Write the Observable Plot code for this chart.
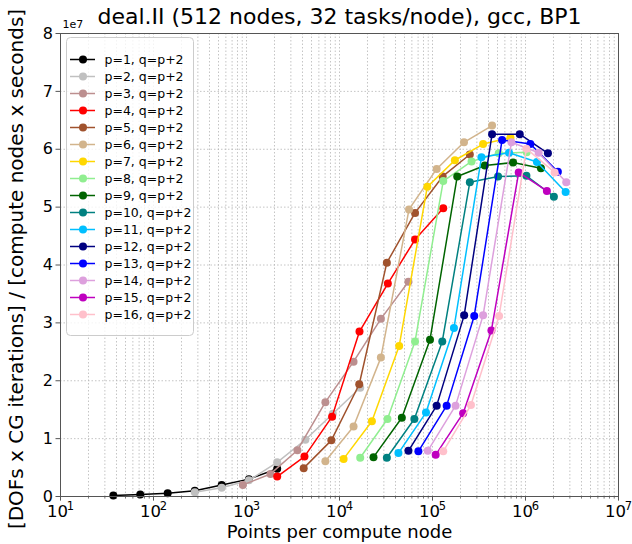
<!DOCTYPE html>
<html><head><meta charset="utf-8">
<script src="https://cdn.jsdelivr.net/npm/d3@7"></script>
<script src="https://cdn.jsdelivr.net/npm/@observablehq/plot@0.6"></script>
<style>
body{margin:0;background:#fff;font-family:"DejaVu Sans",sans-serif}
#wrap{position:relative;width:632px;height:544px;overflow:hidden}
#legend{position:absolute;left:66px;top:37px}
</style></head><body><div id="wrap"><div id="main"></div><div id="legend"></div></div>
<script>
const title = "deal.II (512 nodes, 32 tasks/node), gcc, BP1";
const xLabel = "Points per compute node";
const yLabel = "[DOFs x CG iterations] / [compute nodes x seconds]";
const yOffsetLabel = "1e7";
const degrees = [1,2,3,4,5,6,7,8,9,10,11,12,13,14,15,16];
const colors = ["#000000","#c0c0c0","#bc8f8f","#ff0000","#a0522d","#d2b48c","#ffd700","#90ee90",
                "#006400","#008080","#00bfff","#000080","#0000ff","#dda0dd","#bf00bf","#ffc0cb"];
const xTickValues = [1e1,1e2,1e3,1e4,1e5,1e6,1e7];
const xTickBase = "10";
const xTickExponents = ["1","2","3","4","5","6","7"];
const yTickValues = [0,1e7,2e7,3e7,4e7,5e7,6e7,7e7,8e7];
const yTickLabels = ["0","1","2","3","4","5","6","7","8"];

const x_p1 = [37, 72, 142, 278, 541, 1062, 2138];
const y_p1 = [0.017e7, 0.034e7, 0.057e7, 0.10e7, 0.20e7, 0.30e7, 0.48e7];
const x_p2 = [278, 541, 1062, 2138, 4295, 8470, 16700];
const y_p2 = [0.074e7, 0.15e7, 0.28e7, 0.59e7, 0.98e7, 1.43e7, 1.88e7];
const x_p3 = [914, 1811, 3530, 7050, 14160, 27850, 55100];
const y_p3 = [0.20e7, 0.39e7, 0.80e7, 1.63e7, 2.33e7, 3.07e7, 3.71e7];
const x_p4 = [2138, 4200, 8320, 16400, 33100, 64900, 130500];
const y_p4 = [0.345e7, 0.69e7, 1.38e7, 2.85e7, 3.68e7, 4.44e7, 4.98e7];
const x_p5 = [4120, 8170, 16300, 32300, 64900, 128600, 252000];
const y_p5 = [0.49e7, 0.97e7, 1.94e7, 4.04e7, 4.90e7, 5.53e7, 5.91e7];
const x_p6 = [7050, 14160, 27850, 55900, 110900, 218000, 437000];
const y_p6 = [0.61e7, 1.21e7, 2.40e7, 4.96e7, 5.66e7, 6.12e7, 6.41e7];
const x_p7 = [11070, 22300, 43800, 87900, 174000, 350000, 689000];
const y_p7 = [0.65e7, 1.30e7, 2.60e7, 5.35e7, 5.81e7, 6.09e7, 6.20e7];
const x_p8 = [16700, 32800, 64900, 130500, 263000, 516000, 1030000];
const y_p8 = [0.67e7, 1.34e7, 2.68e7, 5.45e7, 5.79e7, 5.93e7, 5.95e7];
const x_p9 = [23200, 46800, 94000, 184500, 365000, 735000, 1466000];
const y_p9 = [0.68e7, 1.36e7, 2.71e7, 5.53e7, 5.72e7, 5.77e7, 5.67e7];
const x_p10 = [32300, 63800, 127400, 252000, 507000, 1023000, 2020000];
const y_p10 = [0.67e7, 1.34e7, 2.68e7, 5.43e7, 5.53e7, 5.54e7, 5.18e7];
const x_p11 = [43000, 85100, 170000, 336000, 665000, 1327000, 2700000];
const y_p11 = [0.75e7, 1.45e7, 2.91e7, 5.86e7, 5.94e7, 5.78e7, 5.26e7];
const x_p12 = [55100, 110900, 219000, 437000, 867000, 1742000];
const y_p12 = [0.79e7, 1.57e7, 3.13e7, 6.26e7, 6.26e7, 5.93e7];
const x_p13 = [70500, 142000, 281000, 560000, 1128000, 2228000];
const y_p13 = [0.78e7, 1.57e7, 3.12e7, 6.16e7, 6.09e7, 5.61e7];
const x_p14 = [88900, 177000, 350000, 706000, 1384000, 2741000];
const y_p14 = [0.79e7, 1.57e7, 3.13e7, 6.12e7, 5.94e7, 5.43e7];
const x_p15 = [108200, 213600, 430000, 845000, 1698000];
const y_p15 = [0.72e7, 1.44e7, 2.87e7, 5.60e7, 5.28e7];
const x_p16 = [130500, 259000, 520000, 1023000, 2056000];
const y_p16 = [0.78e7, 1.58e7, 3.12e7, 6.01e7, 5.60e7];

const xs = [x_p1,x_p2,x_p3,x_p4,x_p5,x_p6,x_p7,x_p8,x_p9,x_p10,x_p11,x_p12,x_p13,x_p14,x_p15,x_p16];
const ys = [y_p1,y_p2,y_p3,y_p4,y_p5,y_p6,y_p7,y_p8,y_p9,y_p10,y_p11,y_p12,y_p13,y_p14,y_p15,y_p16];
const names = degrees.map(p => `p=${p}, q=p+2`);

const seriesRows = xs.map((xa, i) => xa.map((x, j) => ({series: names[i], x, y: ys[i][j]})));

const minor = [];
for (let k = 1; k < 7; k++) for (let m = 1; m < 10; m++) minor.push(m * Math.pow(10, k));
minor.push(1e7);
const yGrid = yTickValues.slice(1, -1);

const FONT = "DejaVu Sans, sans-serif";
const AXIS = "#555";
const GRID = {stroke: "#b5b5b5", strokeDasharray: "1.5,2", strokeWidth: 0.8};
const main = Plot.plot({
  width: 632, height: 544,
  marginTop: 33, marginBottom: 48, marginLeft: 60, marginRight: 14,
  style: {fontFamily: FONT, fontSize: "16px", color: "black", background: "white", overflow: "visible"},
  x: {type: "log", domain: [1e1, 1e7], axis: null},
  y: {domain: [0, 8e7]},
  color: {domain: names, range: colors},
  marks: [
    Plot.ruleX(minor, GRID),
    Plot.ruleY(yGrid, GRID),
    ...seriesRows.flatMap(rows => [
      Plot.line(rows, {x: "x", y: "y", stroke: "series", strokeWidth: 1.5}),
      Plot.dot(rows, {x: "x", y: "y", fill: "series", r: 4})
    ]),
    Plot.frame({stroke: AXIS, strokeWidth: 1}),
    Plot.ruleX(minor, {y1: 0, y2: -0.045e7, stroke: AXIS, strokeWidth: 0.8}),
    Plot.ruleX(xTickValues, {y1: 0, y2: -0.08e7, stroke: AXIS, strokeWidth: 1}),
    Plot.axisY(yTickValues, {tickSize: 4.5, tickPadding: 3, fontSize: 16, label: null, stroke: AXIS,
      tickFormat: d => yTickLabels[yTickValues.indexOf(d)]}),
    Plot.text(xTickValues, {x: d => d, frameAnchor: "bottom", dx: -3, dy: 15, lineAnchor: "middle",
      textAnchor: "middle", fontSize: 16.5, text: () => xTickBase}),
    Plot.text(xTickValues, {x: d => d, frameAnchor: "bottom", dx: 10, dy: 9.5, lineAnchor: "middle",
      textAnchor: "middle", fontSize: 11.5, text: d => xTickExponents[xTickValues.indexOf(d)]}),
    Plot.text([title], {frameAnchor: "top", dy: -17, lineAnchor: "middle", textAnchor: "middle", fontSize: 22, text: d => d}),
    Plot.text([yOffsetLabel], {frameAnchor: "top-left", dx: 2, dy: -6, fontSize: 11, textAnchor: "start", lineAnchor: "bottom", text: d => d}),
    Plot.text([xLabel], {frameAnchor: "bottom", dy: 36, lineAnchor: "middle", textAnchor: "middle", fontSize: 18, text: d => d}),
    Plot.text([yLabel], {frameAnchor: "left", dx: -44, dy: 4, rotate: -90, textAnchor: "middle", lineAnchor: "middle", fontSize: 20, text: d => d})
  ]
});
document.getElementById("main").appendChild(main);

const legendRows = names.map(n => ({name: n}));
const legend = Plot.plot({
  width: 127, height: 298, margin: 0,
  style: {fontFamily: FONT, background: "transparent", overflow: "visible", color: "black"},
  x: {domain: [0, 127], axis: null},
  y: {type: "point", domain: names, range: [9.7, 289.7], axis: null},
  color: {domain: names, range: colors},
  marks: [
    Plot.frame({stroke: "#cccccc", fill: "white", fillOpacity: 0.8, rx: 4}),
    Plot.ruleY(legendRows, {y: "name", x1: 4, x2: 29, stroke: "name", strokeWidth: 1.5}),
    Plot.dot(legendRows, {x: 16.5, y: "name", fill: "name", r: 4}),
    Plot.text(legendRows, {x: 38, y: "name", text: "name", textAnchor: "start", fontSize: 12.5})
  ]
});
document.getElementById("legend").appendChild(legend);
</script></body></html>
